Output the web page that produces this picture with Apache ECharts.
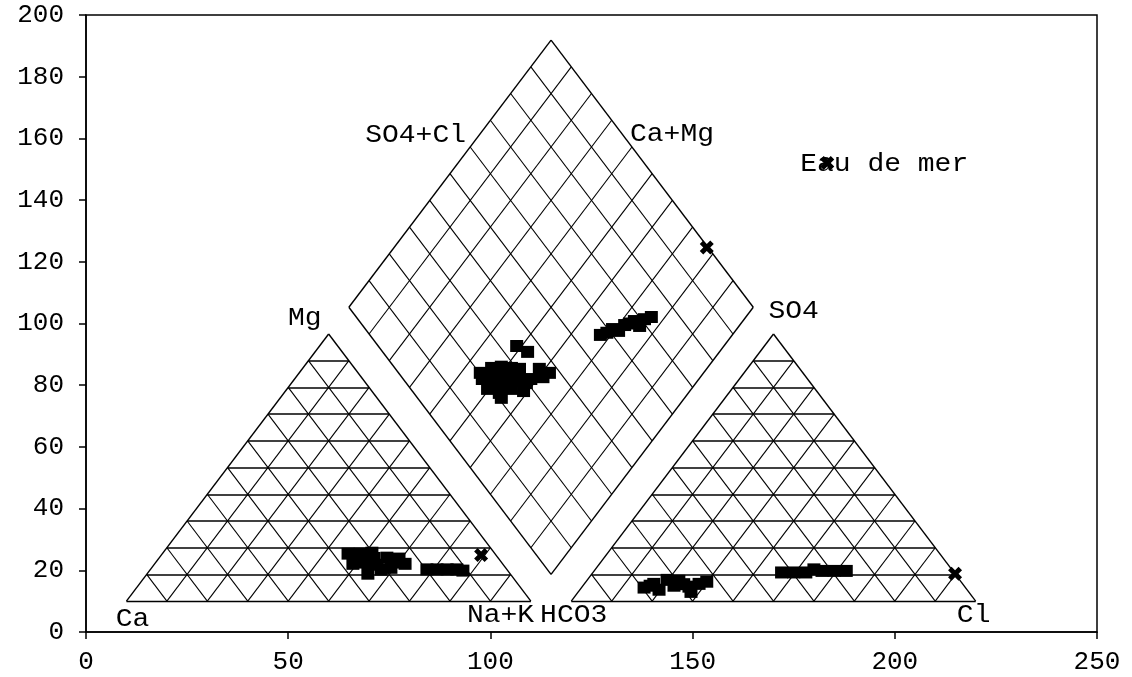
<!DOCTYPE html>
<html>
<head>
<meta charset="utf-8">
<script src="https://cdn.jsdelivr.net/npm/echarts@6/dist/echarts.min.js"></script>
<style>html,body{margin:0;padding:0;background:#fff}#c{width:1132px;height:677px}</style>
</head>
<body>
<div id="c"></div>
<script>
// ---- axis ticks ----
const xTicks = [0, 50, 100, 150, 200, 250];
const yTicks = [0, 20, 40, 60, 80, 100, 120, 140, 160, 180, 200];

// ---- samples: cation triangle (Ca / Mg / Na+K) ----
const cationX = [64.8, 67.8, 70.7, 74.4, 77.4, 78.9, 75.4, 66.0, 69.0, 72.0, 69.7, 73.0, 71.2, 76.0, 84.3, 86.8, 89.3, 91.7, 93.2];
const cationY = [25.4, 25.4, 25.7, 24.1, 23.8, 22.1, 20.8, 22.1, 22.5, 21.8, 18.9, 20.2, 24.0, 22.5, 20.3, 20.3, 20.3, 20.3, 19.9];
// ---- samples: anion triangle (HCO3 / SO4 / Cl) ----
const anionX = [138.0, 140.4, 143.7, 146.6, 149.1, 151.6, 153.5, 141.7, 145.4, 149.6, 139.5, 147.8, 172, 175, 178, 180, 182, 185, 188];
const anionY = [14.4, 15.6, 16.9, 16.6, 14.7, 15.6, 16.3, 13.7, 15.0, 13.0, 15.0, 15.5, 19.3, 19.3, 19.3, 20.3, 19.8, 19.8, 19.8];
// ---- samples: central diamond ----
const diamondX = [106.5, 109.2, 112.1, 114.6, 113.0, 100.3, 102.7, 105.2, 107.2, 98.0, 100.8, 103.5, 106.2, 108.9, 99.3, 102.3, 105.2, 108.2, 102.7, 102.2,
                  101.5, 104.3, 107.0, 110.0, 97.5, 104.0,
                  127.2, 130.2, 133.2, 135.6, 138.1, 139.8, 131.7, 136.9, 128.8, 134.4];
const diamondY = [92.7, 90.8, 85.3, 84.0, 82.6, 85.6, 86.0, 85.6, 85.3, 82.0, 82.0, 81.4, 81.4, 80.7, 78.8, 79.1, 78.8, 78.1, 75.9, 77.5,
                  83.8, 83.5, 83.0, 82.0, 84.0, 80.2,
                  96.3, 98.2, 99.5, 100.8, 101.4, 102.1, 97.6, 99.2, 97.0, 100.0];
// ---- sea water ("Eau de mer") ----
const seaX = [97.7, 214.9, 153.5, 183.3];
const seaY = [25.0, 18.9, 124.6, 152.0];

// ---- annotation texts ----
const labelNames = ['Ca', 'Na+K', 'HCO3', 'Cl', 'Mg', 'SO4', 'SO4+Cl', 'Ca+Mg', 'Eau de mer'];
const labelX = [11.5, 102.5, 120.6, 219.5, 54.1, 175.0, 81.5, 144.9, 176.6];
const labelY = [4.2, 5.5, 5.5, 5.5, 101.8, 104.0, 161.0, 161.3, 151.5];
const labelAlign = ['center', 'center', 'center', 'center', 'center', 'center', 'center', 'center', 'left'];

// ---- Piper geometry (triangle side 100, gap 10) ----
const SIDE = 100, GAP = 10, BASE = 10, H = SIDE * Math.sqrt(3) / 2;
const leftX0 = 10, rightX0 = leftX0 + SIDE + GAP;

function triangle(x0) {
  const L = [x0, BASE], R = [x0 + SIDE, BASE], T = [x0 + SIDE / 2, BASE + H];
  const outline = [[L, R], [R, T], [T, L]];
  const horiz = [], diag = [];
  for (let k = 1; k < 10; k++) {
    const f = k / 10;
    horiz.push([[L[0] + f * (T[0] - L[0]), L[1] + f * (T[1] - L[1])], [R[0] + f * (T[0] - R[0]), R[1] + f * (T[1] - R[1])]]);
    const P = [x0 + SIDE * f, BASE];
    diag.push([P, [P[0] + (1 - f) * (T[0] - L[0]), P[1] + (1 - f) * (T[1] - L[1])]]);
    diag.push([P, [P[0] + f * (T[0] - R[0]), P[1] + f * (T[1] - R[1])]]);
  }
  return { outline, horiz, diag };
}
function diamond() {
  const cx = leftX0 + SIDE + GAP / 2;
  const B = [cx, BASE + (GAP / 2) * Math.sqrt(3)];
  const Lv = [B[0] - SIDE / 2, B[1] + H], Rv = [B[0] + SIDE / 2, B[1] + H], Tv = [B[0], B[1] + 2 * H];
  const outline = [[B, Lv], [Lv, Tv], [Tv, Rv], [Rv, B]];
  const grid = [];
  for (let k = 1; k < 10; k++) {
    const f = k / 10;
    const p1 = [B[0] + f * (Rv[0] - B[0]), B[1] + f * (Rv[1] - B[1])];
    grid.push([p1, [p1[0] + (Lv[0] - B[0]), p1[1] + (Lv[1] - B[1])]]);
    const p2 = [B[0] + f * (Lv[0] - B[0]), B[1] + f * (Lv[1] - B[1])];
    grid.push([p2, [p2[0] + (Rv[0] - B[0]), p2[1] + (Rv[1] - B[1])]]);
  }
  return { outline, grid };
}
const tL = triangle(leftX0), tR = triangle(rightX0), dm = diamond();
const thinSegs = [...tL.diag, ...tR.diag, ...dm.grid];
const boldSegs = [...tL.horiz, ...tR.horiz];
const outlineSegs = [...tL.outline, ...tR.outline, ...dm.outline];

const FONT = '"Liberation Mono", "Courier New", monospace';
const zip = (xs, ys) => xs.map((x, i) => [x, ys[i]]);
const linesSeries = (segs, w) => ({
  type: 'lines', coordinateSystem: 'cartesian2d', polyline: false, silent: true, animation: false,
  lineStyle: { color: '#000', width: w, opacity: 1 },
  data: segs.map(s => ({ coords: s }))
});
const squareSeries = (pts) => ({
  type: 'scatter', symbol: 'rect', symbolSize: [13, 12], silent: true, animation: false,
  itemStyle: { color: '#000', opacity: 1 }, data: pts
});

const chart = echarts.init(document.getElementById('c'), null, { renderer: 'canvas' });
chart.setOption({
  backgroundColor: '#fff',
  animation: false,
  grid: { left: 86, right: 35, top: 15, bottom: 45, show: true, borderColor: '#000', borderWidth: 1.5, backgroundColor: 'transparent' },
  xAxis: {
    type: 'value', min: xTicks[0], max: xTicks[xTicks.length - 1], interval: xTicks[1] - xTicks[0],
    axisLine: { lineStyle: { color: '#000', width: 1.5 } },
    axisTick: { length: 7, lineStyle: { color: '#000', width: 1.5 } },
    axisLabel: { color: '#000', fontFamily: FONT, fontSize: 26, margin: 17 },
    splitLine: { show: false }
  },
  yAxis: {
    type: 'value', min: yTicks[0], max: yTicks[yTicks.length - 1], interval: yTicks[1] - yTicks[0],
    axisLine: { lineStyle: { color: '#000', width: 1.5 } },
    axisTick: { length: 7, lineStyle: { color: '#000', width: 1.5 } },
    axisLabel: { color: '#000', fontFamily: FONT, fontSize: 26, margin: 22 },
    splitLine: { show: false }
  },
  series: [
    linesSeries(thinSegs, 1.1),
    linesSeries(boldSegs, 1.7),
    linesSeries(outlineSegs, 1.4),
    squareSeries(zip(cationX, cationY)),
    squareSeries(zip(anionX, anionY)),
    squareSeries(zip(diamondX, diamondY)),
    {
      type: 'custom', coordinateSystem: 'cartesian2d', silent: true, animation: false,
      data: zip(labelX, labelY),
      renderItem: (params, api) => {
        const p = api.coord([api.value(0), api.value(1)]);
        const i = params.dataIndex;
        return {
          type: 'text', x: p[0], y: p[1], scaleX: 1.12,
          style: { text: labelNames[i], fontFamily: FONT, fontSize: 25, fill: '#000', align: labelAlign[i], verticalAlign: 'middle' }
        };
      }
    },
    {
      type: 'scatter', silent: true, animation: false,
      symbol: 'path://M0,2.5L2.5,0L5,2.5L7.5,0L10,2.5L7.5,5L10,7.5L7.5,10L5,7.5L2.5,10L0,7.5L2.5,5Z',
      symbolSize: 14, itemStyle: { color: '#000', opacity: 1 },
      data: zip(seaX, seaY), z: 5
    }
  ]
});
</script>
</body>
</html>
